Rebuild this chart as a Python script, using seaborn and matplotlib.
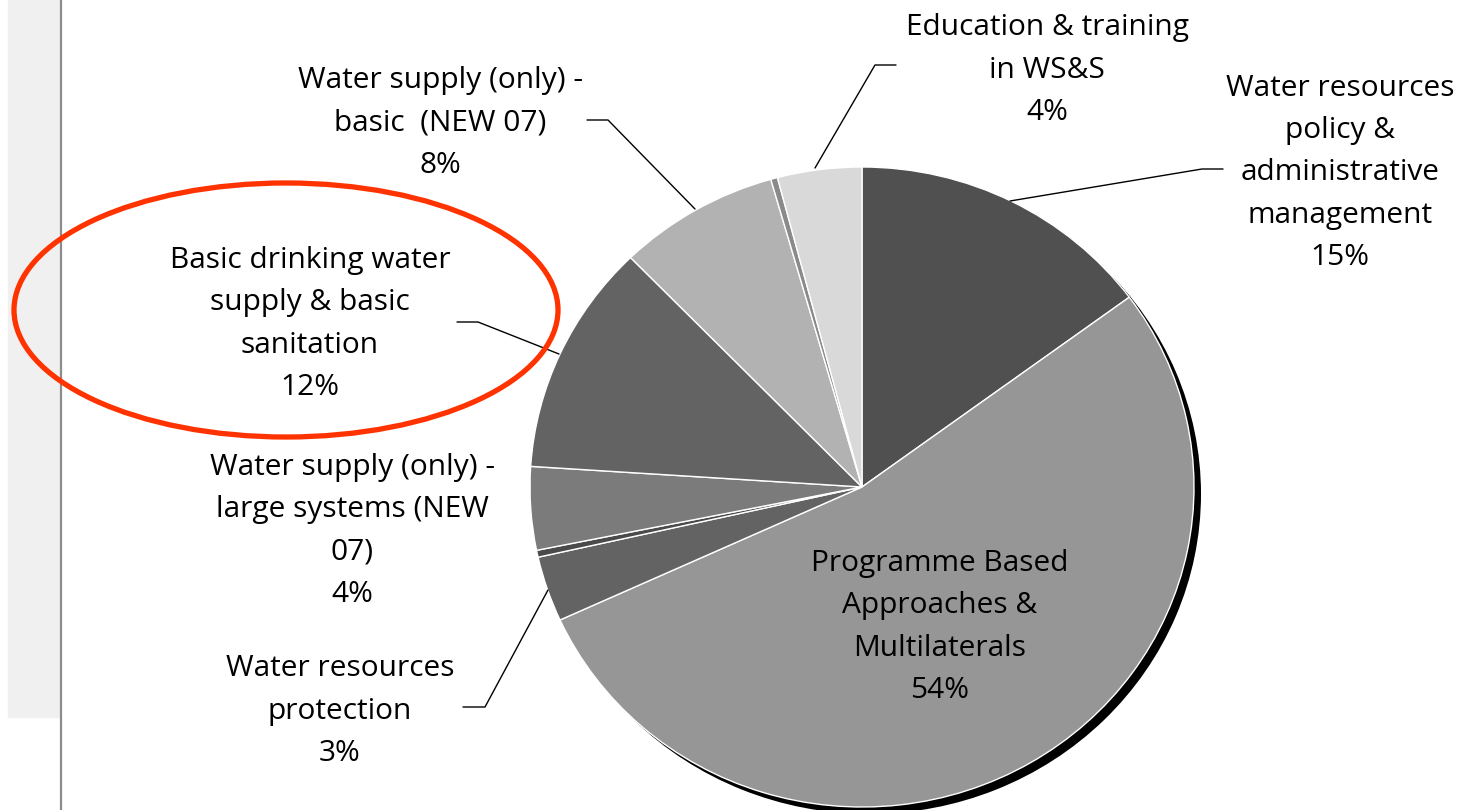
import matplotlib
matplotlib.use("Agg")
import matplotlib.pyplot as plt
from matplotlib.patches import Ellipse, Rectangle
import seaborn as sns

sns.set_theme(style="white")
plt.rcParams['font.family'] = ['Open Sans', 'DejaVu Sans']

# slices, clockwise from 12 o'clock
categories = [
    "Water resources\npolicy &\nadministrative\nmanagement",
    "Programme Based\nApproaches &\nMultilaterals",
    "Water resources\nprotection",
    "other (small)",
    "Water supply (only) -\nlarge systems (NEW\n07)",
    "Basic drinking water\nsupply & basic\nsanitation",
    "Water supply (only) -\nbasic  (NEW 07)",
    "other (small) 2",
    "Education & training\nin WS&S",
]
shares = [14.9, 53.3, 3.3, 0.35, 4.2, 11.7, 7.85, 0.33, 4.1]
pct_labels = ["15%", "54%", "3%", None, "4%", "12%", "8%", None, "4%"]
colors = ["#505050", "#969696", "#636363", "#4a4a4a", "#7b7b7b",
          "#636363", "#b2b2b2", "#8a8a8a", "#d9d9d9"]

W, H = 1470, 810
fig = plt.figure(figsize=(14.7, 8.1), dpi=100)
fig.patch.set_facecolor("white")

# left grey panel and divider
fig.patches.append(Rectangle((8 / W, 1 - 717 / H), 52 / W, 717 / H,
                             transform=fig.transFigure, color="#f0f0f0", zorder=0))
fig.add_artist(plt.Line2D([61 / W, 61 / W], [0, 1], color="#8c8c8c", lw=1.6))

ax = fig.add_axes([0, 0, 1, 1])
ax.patch.set_alpha(0)

cx, cy, rx, ry = 862, 487, 332, 320

# shadow
ax.pie([1], colors=["black"], radius=1.0, center=(7 / rx, -7 / ry),
       startangle=90, wedgeprops=dict(linewidth=0))
ax.pie(shares, colors=colors, startangle=90, counterclock=False, radius=1.0,
       wedgeprops=dict(edgecolor="white", linewidth=1.0))

ax.set_aspect("auto")
ax.set_xlim((0 - cx) / rx, (W - cx) / rx)
ax.set_ylim((cy - H) / ry, (cy - 0) / ry)
ax.axis("off")


def fx(px):
    return px / W


def fy(py):
    return 1 - py / H


# label centers in pixels
label_pos = {
    0: (1340, 173),
    1: (940, 627),
    2: (340, 711),
    4: (352, 531),
    5: (310, 324),
    6: (440, 123),
    8: (1047, 70),
}
for i, (px, py) in label_pos.items():
    fig.text(fx(px), fy(py), categories[i] + "\n" + pct_labels[i],
             ha="center", va="center", fontsize=21.5, color="black",
             linespacing=1.6)

# leader lines
leaders = [
    [(815, 168), (875, 65), (896, 65)],
    [(1010, 201), (1202, 169), (1223, 169)],
    [(695, 209), (608, 120), (587, 120)],
    [(559, 354), (478, 322), (457, 322)],
    [(548, 590), (485, 707), (463, 707)],
]
for pts in leaders:
    xs = [fx(p[0]) for p in pts]
    ys = [fy(p[1]) for p in pts]
    fig.add_artist(plt.Line2D(xs, ys, color="black", lw=1.0))

# red highlight ellipse
fig.patches.append(Ellipse((fx(286), fy(310)), 544 / W, 254 / H,
                           transform=fig.transFigure, fill=False,
                           edgecolor="#ff3300", lw=3.8, zorder=5))

fig.savefig("out.png", dpi=100)
